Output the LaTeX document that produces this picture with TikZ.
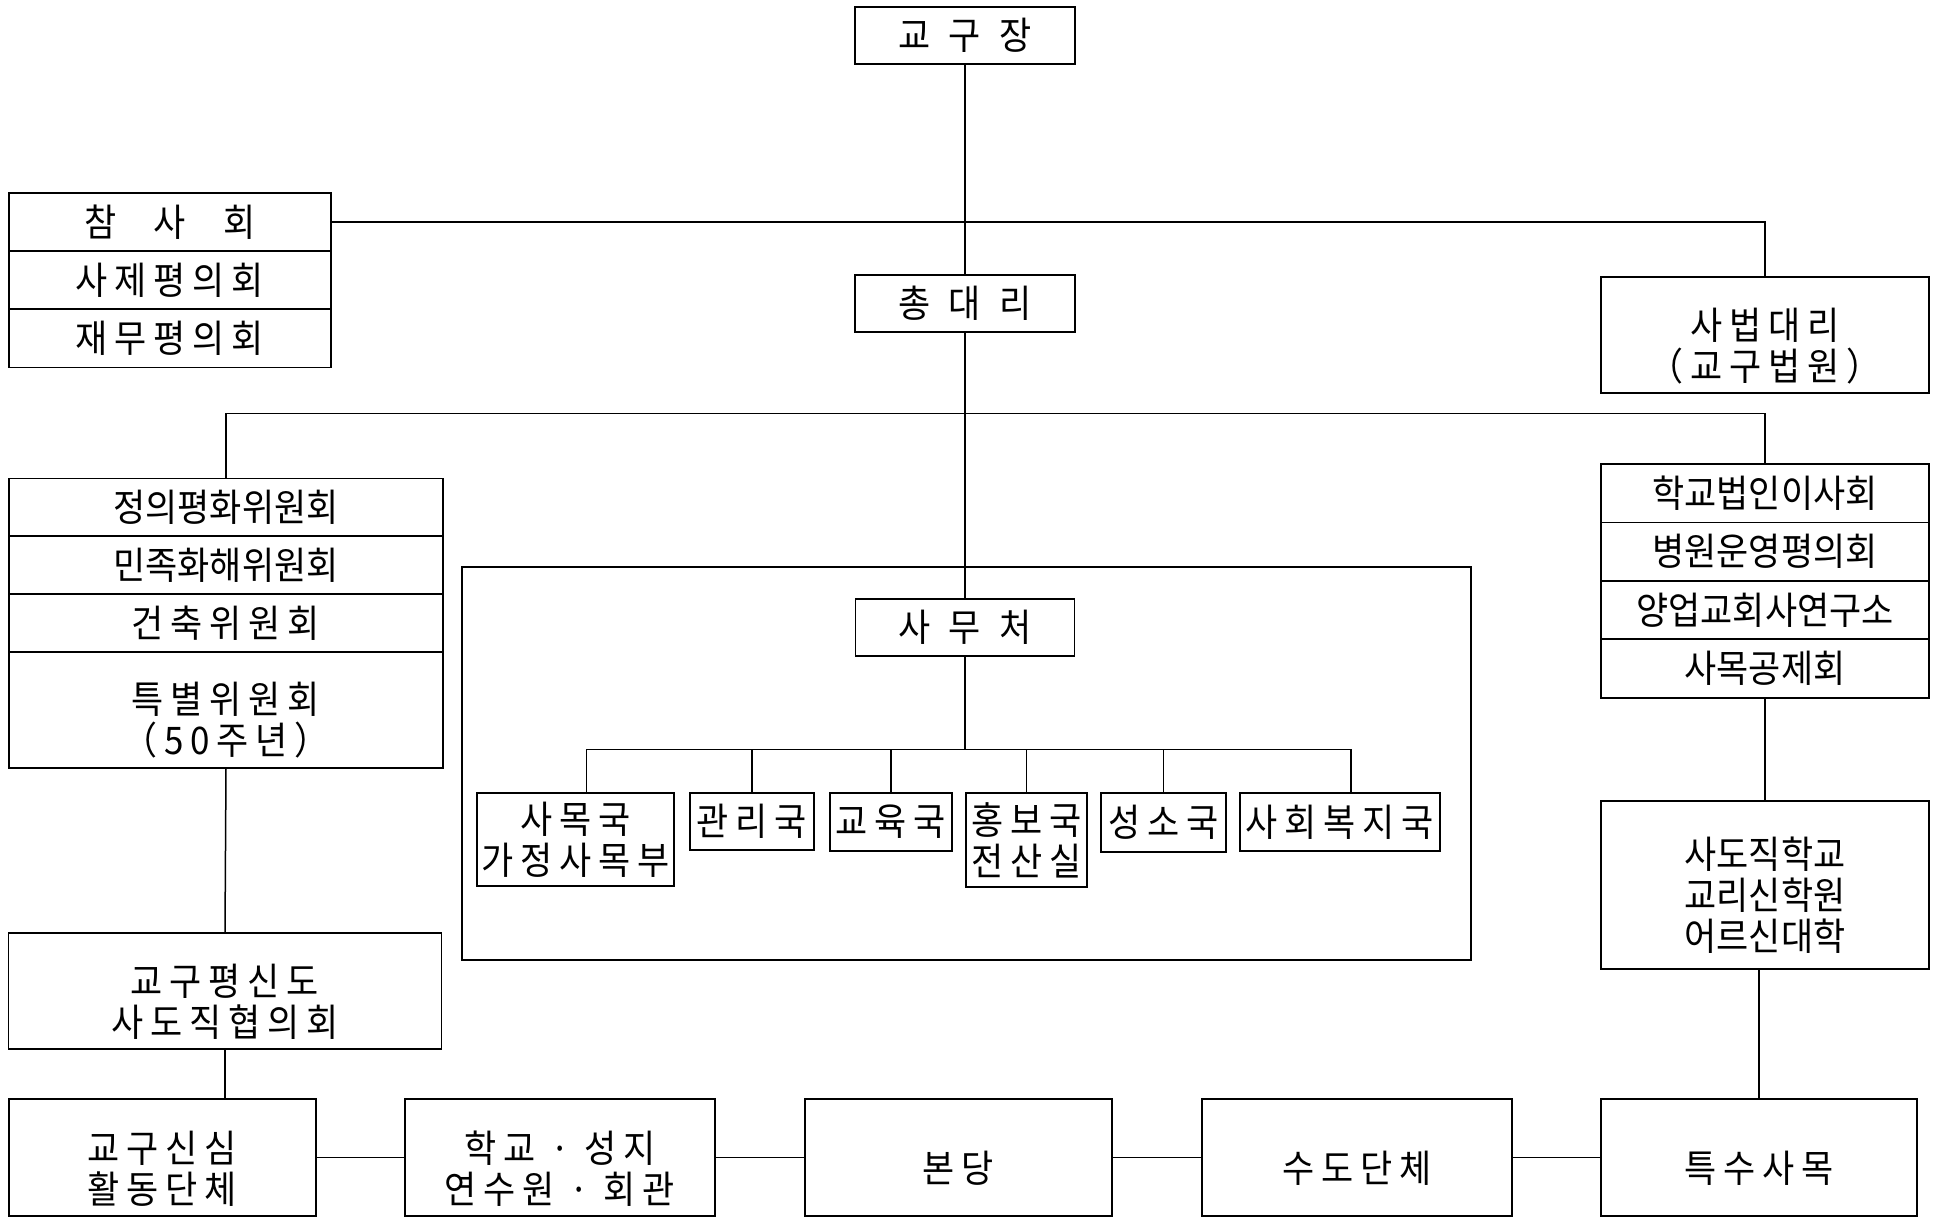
\documentclass[tikz,border=0pt]{standalone}
\usepackage{fontspec}
\newfontfamily\kr[FakeStretch=0.92]{Noto Sans CJK KR}
\begin{document}
\begin{tikzpicture}[x=1pt,y=-1pt,
    box/.style={draw,line width=1.8pt,inner sep=0pt,align=center,
      font=\kr\fontsize{38}{41}\selectfont},
    wide/.style={font=\kr\fontsize{38}{41}\selectfont\addfontfeature{LetterSpace=18}},
    lower/.style={text height=#1},
    link/.style={line width=1.5pt}]
  \useasboundingbox (0,0) rectangle (1937,1227);
  %top
  \node[box,minimum width=220pt,minimum height=57pt] (gyo) at (965,35.5) {교\hspace{18pt}구\hspace{18pt}장};
  \node[box,minimum width=220pt,minimum height=57pt] (chong) at (965,303.5) {총\hspace{18pt}대\hspace{18pt}리};
  \node[box,minimum width=322pt,minimum height=58.2pt] (cham1) at (170,222.1) {참\hspace{37pt}사\hspace{37pt}회};
  \node[box,wide,minimum width=322pt,minimum height=58.2pt] (cham2) at (170,280.2) {사제평의회};
  \node[box,wide,minimum width=322pt,minimum height=58.2pt] (cham3) at (170,338.4) {재무평의회};
  \node[box,wide,lower=94pt,minimum width=328pt,minimum height=116pt] (sabeop) at (1765,335) {사법대리\\（교구법원）};
  %left committees
  \node[box,minimum width=434pt,minimum height=57.7pt] (jeong1) at (226,507.4) {정의평화위원회};
  \node[box,minimum width=434pt,minimum height=57.7pt] (jeong2) at (226,565.1) {민족화해위원회};
  \node[box,wide,minimum width=434pt,minimum height=57.7pt] (jeong3) at (226,622.8) {건축위원회};
  \node[box,wide,lower=94pt,minimum width=434pt,minimum height=116pt] (jeong4) at (226,709.6) {특별위원회\\（50주년）};
  \node[box,wide,lower=94pt,minimum width=433pt,minimum height=116pt] (pyeong) at (225,991) {교구평신도\\사도직협의회};
  %right
  \node[box,minimum width=328pt,minimum height=58.5pt] (hak1) at (1765,493.2) {학교법인이사회};
  \node[box,minimum width=328pt,minimum height=58.5pt] (hak2) at (1765,551.7) {병원운영평의회};
  \node[box,minimum width=328pt,minimum height=58.5pt] (hak3) at (1765,610.1) {양업교회사연구소};
  \node[box,minimum width=328pt,minimum height=58.5pt] (hak4) at (1765,668.6) {사목공제회};
  \node[box,lower=134pt,minimum width=328pt,minimum height=168pt] (sadojik) at (1765,885) {사도직학교\\교리신학원\\어르신대학};
  %office
  \draw[line width=1.8pt] (462,567) rectangle (1471,960);
  \node[box,minimum width=219pt,minimum height=57pt] (samu) at (965,627.5) {사\hspace{18pt}무\hspace{18pt}처};
  \node[box,wide,minimum width=197pt,minimum height=93pt] (samok) at (575.5,839.5) {사목국\\가정사목부};
  \node[box,wide,minimum width=124pt,minimum height=57pt] (gwanri) at (752,821.5) {관리국};
  \node[box,wide,minimum width=122pt,minimum height=58pt] (gyoyuk) at (891,822) {교육국};
  \node[box,wide,minimum width=121pt,minimum height=94pt] (hongbo) at (1026.5,840) {홍보국\\전산실};
  \node[box,wide,minimum width=125pt,minimum height=59pt] (seongso) at (1163.5,822.5) {성소국};
  \node[box,wide,minimum width=200pt,minimum height=58pt] (bokji) at (1340,822) {사회복지국};
  %bottom row
  \node[box,wide,lower=94pt,minimum width=307pt,minimum height=117pt] (sinsim) at (162.3,1157.5) {교구신심\\활동단체};
  \node[box,wide,lower=94pt,minimum width=310pt,minimum height=117pt] (hakgyo) at (560,1157.5) {학교 · 성지\\연수원 · 회관};
  \node[box,wide,lower=53pt,minimum width=307pt,minimum height=117pt] (bondang) at (958.5,1157.5) {본당};
  \node[box,wide,lower=53pt,minimum width=310pt,minimum height=117pt] (sudo) at (1357,1157.5) {수도단체};
  \node[box,wide,lower=53pt,minimum width=316pt,minimum height=117pt] (teuksu) at (1759,1157.5) {특수사목};
  %links
  \coordinate (bus) at (965,413.5);
  \coordinate (bar) at (965,749.3);
  \draw[link] (gyo.south) -- (chong.north);
  \draw[link] (cham1.east) -| (sabeop.north);
  \draw[link] (chong.south) -- (samu.north);
  \draw[link] (jeong1.north) |- (bus) -| (hak1.north);
  \draw[link] (samu.south) -- (bar);
  \draw[link] ([xshift=11pt]samok.north) |- (bar) -| ([xshift=11pt]bokji.north);
  \foreach \n in {gwanri,gyoyuk,hongbo,seongso}
    \draw[link] (\n.north) -- (\n.north |- bar);
  \draw[link] (jeong4.south) -- (pyeong.north);
  \draw[link] (pyeong.south) -- (pyeong.south |- sinsim.north);
  \draw[link] (hak4.south) -- (sadojik.north);
  \draw[link] (teuksu.north |- sadojik.south) -- (teuksu.north);
  \draw[link] (sinsim) -- (hakgyo) -- (bondang) -- (sudo) -- (teuksu);
\end{tikzpicture}
\end{document}
